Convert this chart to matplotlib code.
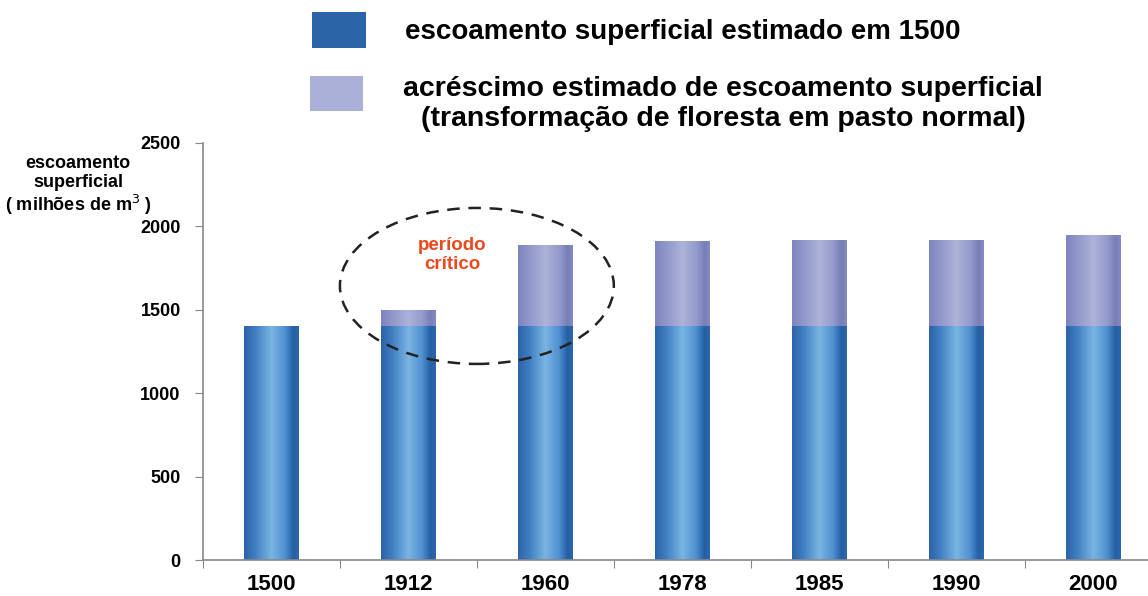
import numpy as np
import matplotlib
matplotlib.use("Agg")
import matplotlib.pyplot as plt
from matplotlib.colors import LinearSegmentedColormap
from matplotlib.patches import Ellipse, Rectangle

plt.rcParams['font.family'] = ['Liberation Sans', 'DejaVu Sans']

anos = ['1500', '1912', '1960', '1978', '1985', '1990', '2000']
base = [1400, 1400, 1400, 1400, 1400, 1400, 1400]
acrescimo = [0, 100, 490, 510, 520, 520, 550]
yticks = [0, 500, 1000, 1500, 2000, 2500]

cor_base = '#2b65a8'
cor_acr = '#aab0d8'

# cylinder-like shading across each bar
cmap_base = LinearSegmentedColormap.from_list('base', [
    (0.0, '#2d62a6'), (0.2, '#3f7ec2'), (0.5, '#7ab4e2'),
    (0.75, '#4f90d0'), (0.9, '#2460a6'), (1.0, '#2f66a8')])
cmap_acr = LinearSegmentedColormap.from_list('acr', [
    (0.0, '#7d84be'), (0.2, '#9097c9'), (0.5, '#adb3da'),
    (0.75, '#959bcc'), (0.9, '#787fb8'), (1.0, '#848bc2')])
grad = np.linspace(0, 1, 256).reshape(1, -1)

fig = plt.figure(figsize=(11.48, 5.96), dpi=100)
ax = fig.add_axes([0.1768, 0.0604, 0.8232, 0.6997])

x = np.arange(len(anos))
w = 0.4


def barra(xc, y0, h, cmap):
    if h <= 0:
        return
    ext = [xc - w / 2, xc + w / 2, y0, y0 + h]
    im = ax.imshow(grad, cmap=cmap, extent=ext, aspect='auto',
                   interpolation='bilinear', zorder=2)
    r = Rectangle((xc - w / 2, y0), w, h, transform=ax.transData,
                  facecolor='none', edgecolor='none')
    ax.add_patch(r)
    im.set_clip_path(r)


for xi, b, a in zip(x, base, acrescimo):
    barra(xi, 0, b, cmap_base)
    barra(xi, b, a, cmap_acr)

# dashed ring around the critical period
ax.add_patch(Ellipse((1.5, 1643), 2.0, 935, fill=False, ls=(0, (5, 3.5)),
                     lw=1.8, edgecolor='#222222', zorder=3))
ax.text(1.32, 1828, 'período\ncrítico', color='#e84a1f', fontsize=13.5,
        fontweight='bold', ha='center', va='center', linespacing=1.2)

ax.set_xlim(-0.5, 6.4)
ax.set_ylim(0, 2500)
ax.set_xticks(x - 0.5, minor=False)
ax.set_xticks(x, minor=True)
ax.set_xticklabels([])
ax.set_xticklabels(anos, minor=True, fontsize=16, fontweight='bold')
ax.tick_params(axis='x', which='minor', length=0, pad=10)
ax.tick_params(axis='x', which='major', length=6, color='#888888')
ax.set_yticks(yticks)
ax.set_yticklabels([str(v) for v in yticks], fontsize=13, fontweight='bold')
ax.tick_params(axis='y', length=6, color='#888888', pad=10)

for s in ['top', 'right']:
    ax.spines[s].set_visible(False)
for s in ['left', 'bottom']:
    ax.spines[s].set_color('#888888')
    ax.spines[s].set_linewidth(1.2)

fig.text(78 / 1148, 1 - 186 / 596, 'escoamento\nsuperficial\n( milhões de m$^3$ )',
         fontsize=13, fontweight='bold', ha='center', va='center',
         linespacing=1.12)

# legend
fig.patches.append(Rectangle((312 / 1148, 1 - 48 / 596), 54 / 1148, 36 / 596,
                             transform=fig.transFigure, facecolor=cor_base,
                             edgecolor='none'))
fig.patches.append(Rectangle((310 / 1148, 1 - 111 / 596), 53 / 1148, 35 / 596,
                             transform=fig.transFigure, facecolor=cor_acr,
                             edgecolor='none'))
fig.text(405 / 1148, 1 - 32 / 596, 'escoamento superficial estimado em 1500',
         fontsize=20, fontweight='bold', ha='left', va='center')
fig.text(723 / 1148, 1 - 104 / 596,
         'acréscimo estimado de escoamento superficial\n'
         '(transformação de floresta em pasto normal)',
         fontsize=20.5, fontweight='bold', ha='center', va='center',
         linespacing=1.15)

fig.savefig('out.png', dpi=100)
